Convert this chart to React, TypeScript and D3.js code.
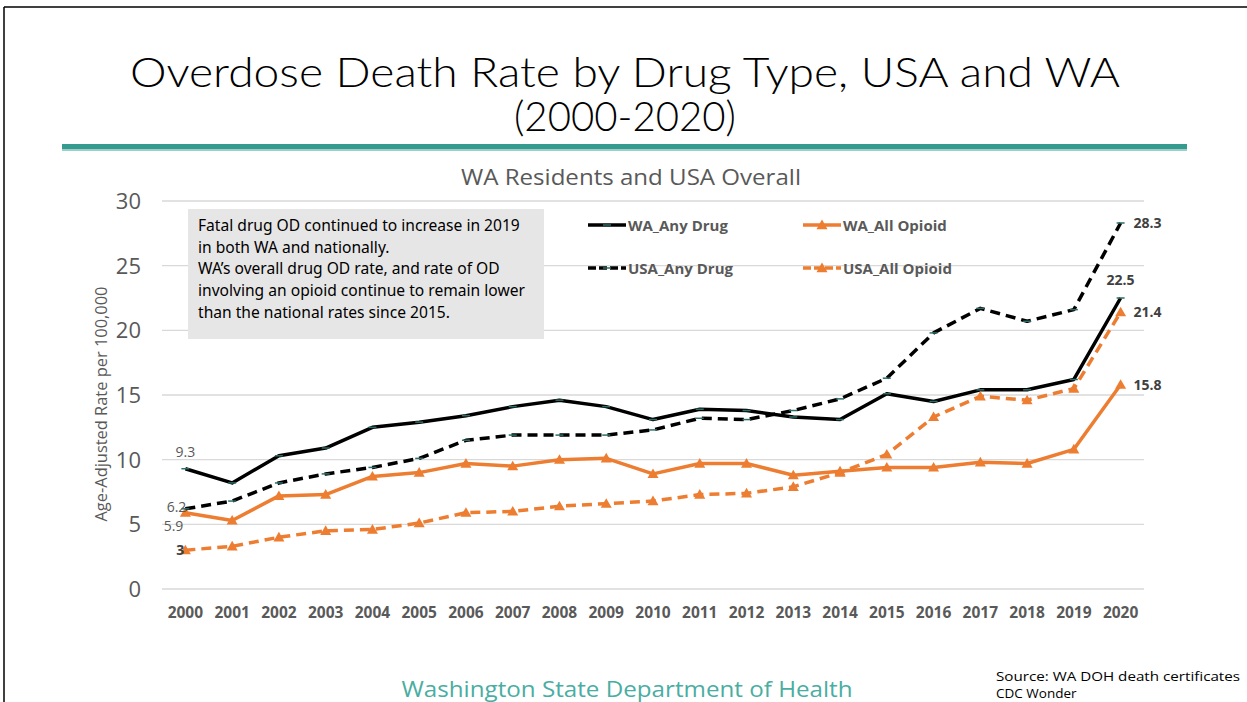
import React from "react";
import * as d3 from "d3";

const years = ["2000","2001","2002","2003","2004","2005","2006","2007","2008","2009","2010","2011","2012","2013","2014","2015","2016","2017","2018","2019","2020"];
const waAnyDrug = [9.3, 8.2, 10.3, 10.9, 12.5, 12.9, 13.4, 14.1, 14.6, 14.1, 13.1, 13.9, 13.8, 13.3, 13.1, 15.1, 14.5, 15.4, 15.4, 16.2, 22.5];
const waAllOpioid = [5.9, 5.3, 7.2, 7.3, 8.7, 9.0, 9.7, 9.5, 10.0, 10.1, 8.9, 9.7, 9.7, 8.8, 9.1, 9.4, 9.4, 9.8, 9.7, 10.8, 15.8];
const usaAnyDrug = [6.2, 6.8, 8.2, 8.9, 9.4, 10.1, 11.5, 11.9, 11.9, 11.9, 12.3, 13.2, 13.1, 13.8, 14.7, 16.3, 19.8, 21.7, 20.7, 21.6, 28.3];
const usaAllOpioid = [3.0, 3.3, 4.0, 4.5, 4.6, 5.1, 5.9, 6.0, 6.4, 6.6, 6.8, 7.3, 7.4, 7.9, 9.0, 10.4, 13.3, 14.9, 14.6, 15.5, 21.4];
const yTicks = [0, 5, 10, 15, 20, 25, 30];
const noteLines = [
  "Fatal drug OD continued to increase in 2019",
  "in both WA and nationally.",
  "WA\u2019s overall drug OD rate, and rate of OD",
  "involving an opioid continue to remain lower",
  "than the national rates since 2015.",
];

const ORANGE = "#ED7D31";
const GRAY = "#595959";
const FONT = "'Open Sans', 'DejaVu Sans', sans-serif";
const TITLE_FONT = "Lato, 'DejaVu Sans', sans-serif";

type Series = { name: string; values: number[]; color: string; dashed: boolean; marker: "dash" | "tri" };
const series: Series[] = [
  { name: "WA_Any Drug", values: waAnyDrug, color: "#000", dashed: false, marker: "dash" },
  { name: "WA_All Opioid", values: waAllOpioid, color: ORANGE, dashed: false, marker: "tri" },
  { name: "USA_Any Drug", values: usaAnyDrug, color: "#000", dashed: true, marker: "dash" },
  { name: "USA_All Opioid", values: usaAllOpioid, color: ORANGE, dashed: true, marker: "tri" },
];

function Marker({ x, y, kind, color }: { x: number; y: number; kind: string; color: string }) {
  if (kind === "tri") {
    const s = 5.5;
    return <path d={`M${x},${y - s}L${x + s},${y + s * 0.75}L${x - s},${y + s * 0.75}Z`} fill={color} />;
  }
  return <line x1={x - 4} x2={x + 4} y1={y} y2={y} stroke={color === "#000" ? "#2E6E68" : color} strokeWidth={1.5} />;
}

export default function App() {
  const W = 1247, H = 702;
  const x = d3.scalePoint<string>().domain(years).range([162, 1144]).padding(0.5);
  const y = d3.scaleLinear().domain([0, 30]).range([589, 201]);
  const line = d3.line<number>().x((_, i) => x(years[i]) as number).y((v) => y(v));
  const last = years.length - 1;
  const xl = x(years[last]) as number;
  const x0 = x(years[0]) as number;

  return (
    <svg width={W} height={H} style={{ position: "absolute", left: 0, top: 0, background: "#fff" }} fontFamily={FONT}>
      <rect width={W} height={H} fill="#fff" />
      <line x1={4} x2={1247} y1={7} y2={7} stroke="#000" strokeWidth={1.5} />
      <line x1={4} x2={4} y1={7} y2={702} stroke="#000" strokeWidth={1.5} />

      <text x={625} y={87} textAnchor="middle" fontSize={41} fontWeight={300} fill="#000" textLength={990} lengthAdjust="spacingAndGlyphs" fontFamily={TITLE_FONT}>
        Overdose Death Rate by Drug Type, USA and WA
      </text>
      <text x={625} y={131} textAnchor="middle" fontSize={41} fontWeight={300} fill="#000" textLength={222} lengthAdjust="spacingAndGlyphs" fontFamily={TITLE_FONT}>
        (2000-2020)
      </text>
      <rect x={62} y={144} width={1125} height={5} fill="#359B8F" />
      <rect x={62} y={149} width={1125} height={2} fill="#9CCFC9" />

      <text x={631} y={185} textAnchor="middle" fontSize={21} fill={GRAY} textLength={340} lengthAdjust="spacingAndGlyphs">WA Residents and USA Overall</text>

      {yTicks.map((t) => (
        <g key={t}>
          <line x1={162} x2={1144} y1={y(t)} y2={y(t)} stroke="#D9D9D9" strokeWidth={1.3} />
          <text x={141} y={y(t) + 8} textAnchor="end" fontSize={22} fill={GRAY}>{t}</text>
        </g>
      ))}
      <text transform={`translate(107,${y(14.3)}) rotate(-90)`} textAnchor="middle" fontSize={15.5} fill={GRAY} textLength={235} lengthAdjust="spacingAndGlyphs">
        Age-Adjusted Rate  per 100,000
      </text>
      {years.map((yr) => (
        <text key={yr} x={x(yr) as number} y={618} textAnchor="middle" fontSize={15.5} fontWeight={700} fill={GRAY}>{yr}</text>
      ))}

      <rect x={188} y={209} width={356} height={130} fill="#E7E6E6" />
      {noteLines.map((l, i) => (
        <text key={i} x={198} y={231 + i * 21.7} fontSize={15.6} fill="#000" fontFamily="'Noto Sans', sans-serif">{l}</text>
      ))}

      {series.map((s) => (
        <g key={s.name}>
          <path d={line(s.values) as string} fill="none" stroke={s.color} strokeWidth={3.5} strokeDasharray={s.dashed ? "10,6" : undefined} strokeLinejoin="round" />
          {s.values.map((v, i) => (
            <Marker key={i} x={x(years[i]) as number} y={y(v)} kind={s.marker} color={s.color} />
          ))}
        </g>
      ))}

      {/* legend */}
      {series.map((s, i) => {
        const lx = i % 2 === 0 ? 588 : 803;
        const ly = i < 2 ? 225 : 268;
        return (
          <g key={s.name}>
            <line x1={lx} x2={lx + 38} y1={ly} y2={ly} stroke={s.color} strokeWidth={3.5} strokeDasharray={s.dashed ? "8,3" : undefined} />
            <Marker x={lx + 19} y={ly} kind={s.marker} color={s.color} />
            <text x={lx + 40} y={ly + 5.5} fontSize={15} fontWeight={700} fill={GRAY}>{s.name}</text>
          </g>
        );
      })}

      {/* start labels */}
      <text x={x0} y={y(waAnyDrug[0]) - 12} textAnchor="middle" fontSize={14} fill={GRAY}>{waAnyDrug[0]}</text>
      <text x={x0 + 1} y={y(usaAnyDrug[0]) + 3} textAnchor="end" fontSize={14} fill={GRAY}>{usaAnyDrug[0]}</text>
      <text x={x0 - 2} y={y(waAllOpioid[0]) + 18} textAnchor="end" fontSize={14} fill={GRAY}>{waAllOpioid[0]}</text>
      <text x={x0 - 1} y={y(usaAllOpioid[0]) + 5} textAnchor="end" fontSize={14} fontWeight={700} fill="#404040">{usaAllOpioid[0]}</text>

      {/* end labels */}
      <text x={xl + 13} y={y(usaAnyDrug[last]) + 5} fontSize={14} fontWeight={700} fill="#404040">{usaAnyDrug[last]}</text>
      <text x={xl} y={y(waAnyDrug[last]) - 13} textAnchor="middle" fontSize={14} fontWeight={700} fill="#404040">{waAnyDrug[last]}</text>
      <text x={xl + 13} y={y(usaAllOpioid[last]) + 5} fontSize={14} fontWeight={700} fill="#404040">{usaAllOpioid[last]}</text>
      <text x={xl + 13} y={y(waAllOpioid[last]) + 5} fontSize={14} fontWeight={700} fill="#404040">{waAllOpioid[last]}</text>

      <text x={627} y={697} textAnchor="middle" fontSize={21} fill="#4AADA2" textLength={451} lengthAdjust="spacingAndGlyphs">Washington State Department of Health</text>
      <text x={996} y={681} fontSize={13.5} fill="#000" textLength={244} lengthAdjust="spacingAndGlyphs">Source: WA DOH death certificates</text>
      <text x={996} y={698} fontSize={13.5} fill="#000">CDC Wonder</text>
    </svg>
  );
}
